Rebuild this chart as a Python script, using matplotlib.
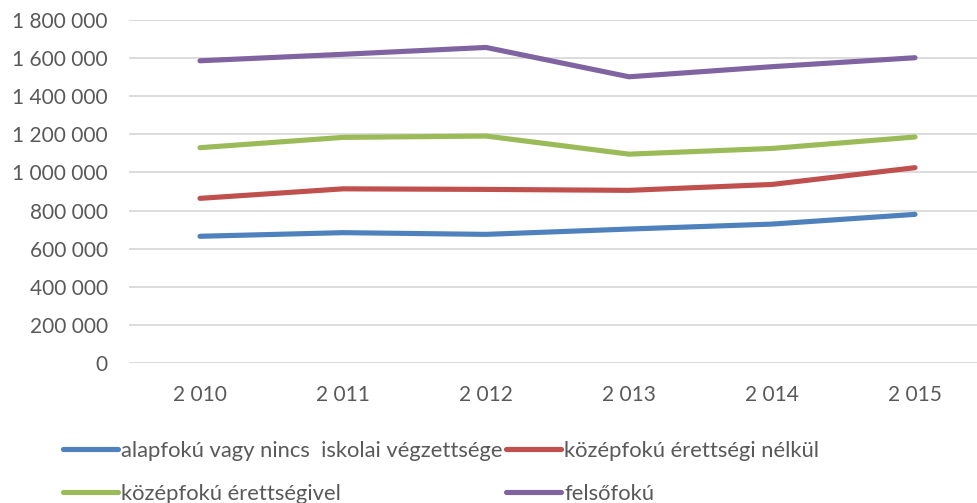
import matplotlib
matplotlib.use("Agg")
import matplotlib.pyplot as plt
from matplotlib.ticker import FuncFormatter

years = ["2 010", "2 011", "2 012", "2 013", "2 014", "2 015"]
alapfoku = [665000, 684000, 675000, 703000, 729000, 780000]
kozep_nelkul = [864000, 914000, 911000, 906000, 937000, 1025000]
kozep_erettsegivel = [1130000, 1184000, 1191000, 1096000, 1126000, 1186000]
felsofoku = [1586000, 1620000, 1656000, 1502000, 1555000, 1602000]
labels = ["alapfokú vagy nincs  iskolai végzettsége", "középfokú érettségi nélkül",
          "középfokú érettségivel", "felsőfokú"]
yticks = [0, 200000, 400000, 600000, 800000, 1000000, 1200000, 1400000, 1600000, 1800000]

plt.rcParams['font.family'] = ['Lato', 'DejaVu Sans']
W, H = 977, 503
fig = plt.figure(figsize=(W / 100, H / 100), dpi=100)
ax = fig.add_axes([128.5 / W, (H - 363) / H, 858 / W, 343 / H])

colors = ["#4F81BD", "#C0504D", "#9BBB59", "#8064A2"]
series = [alapfoku, kozep_nelkul, kozep_erettsegivel, felsofoku]
x = list(range(len(years)))
handles = []
for s, c, l in zip(series, colors, labels):
    h, = ax.plot(x, s, color=c, lw=3.7, solid_capstyle='round', solid_joinstyle='round', label=l, zorder=3)
    handles.append(h)

ax.set_xlim(-0.5, 5.5)
ax.set_ylim(0, 1800000)
ax.set_yticks(yticks)
ax.yaxis.set_major_formatter(FuncFormatter(lambda v, p: f"{int(v):,}".replace(",", " ")))
ax.set_xticks(x)
ax.set_xticklabels(years)
ax.grid(axis='y', color='#D9D9D9', lw=1.3, zorder=0)
for sp in ax.spines.values():
    sp.set_visible(False)
ax.tick_params(axis='both', length=0, labelsize=15, colors='#595959')
ax.tick_params(axis='y', pad=15)
ax.tick_params(axis='x', pad=16)

order = [0, 2, 1, 3]
leg = fig.legend([handles[i] for i in order], [labels[i] for i in order], ncol=2,
                 loc='upper left', bbox_to_anchor=(63 / W, 1 - 441 / H), frameon=False,
                 fontsize=15.8, handlelength=2.5, handletextpad=0.15, columnspacing=0.15,
                 labelspacing=1.05, borderaxespad=0, borderpad=0)
for t in leg.get_texts():
    t.set_color('#595959')

fig.savefig("out.png", dpi=100)
